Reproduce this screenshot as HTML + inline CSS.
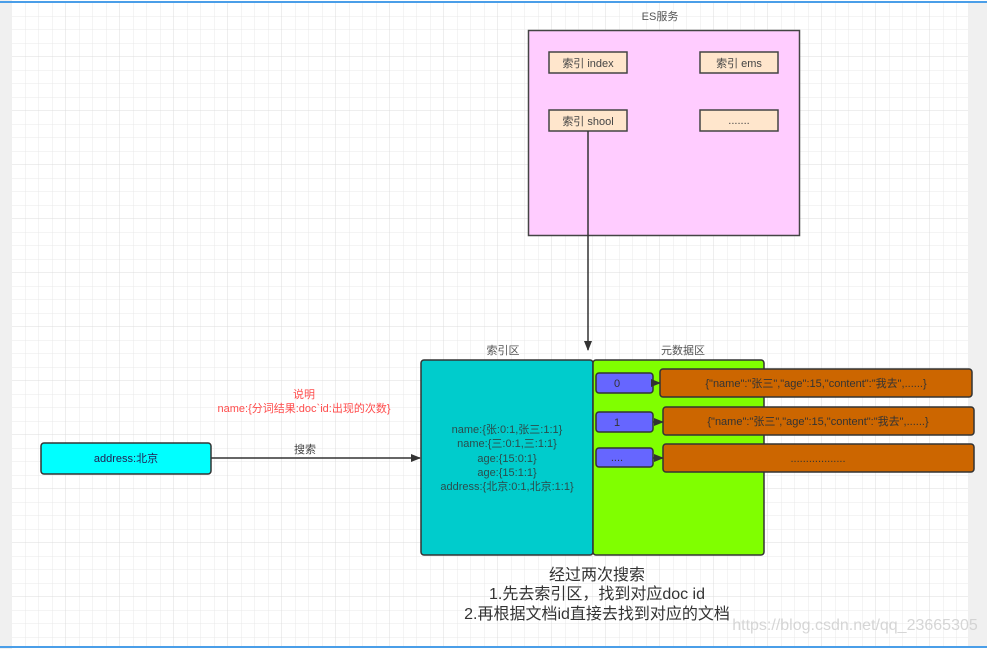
<!DOCTYPE html>
<html><head><meta charset="utf-8"><style>
html,body{margin:0;padding:0;width:987px;height:649px;overflow:hidden;background:#fff}
svg{display:block}
text{font-family:"Liberation Sans","Noto Sans CJK SC",sans-serif}
</style></head><body>
<svg width="987" height="649" viewBox="0 0 987 649" xmlns="http://www.w3.org/2000/svg">
<defs>
<pattern id="g" width="13.5" height="13.5" patternUnits="userSpaceOnUse" x="12" y="3">
<path d="M13.5 0V13.5M0 13.5H13.5" stroke="#e8e8e8" stroke-width="1" fill="none"/>
</pattern>
<pattern id="G" width="54" height="54" patternUnits="userSpaceOnUse" x="12" y="3">
<path d="M54 0V54M0 54H54" stroke="#dcdcdc" stroke-width="1" fill="none"/>
</pattern>
<marker id="a" markerWidth="10" markerHeight="8" refX="9" refY="4" orient="auto" markerUnits="userSpaceOnUse">
<path d="M0 0L10 4L0 8Z" fill="#333"/>
</marker>
</defs>
<rect x="12" y="3" width="956" height="643" fill="url(#g)"/>
<rect x="12" y="3" width="956" height="643" fill="url(#G)"/>
<rect x="0" y="0" width="12" height="649" fill="#f0f0f0"/>
<rect x="968" y="3" width="19" height="643" fill="#f0f0f0"/>
<rect x="0" y="1" width="987" height="2" fill="#4a9ee8"/>
<rect x="0" y="646" width="987" height="2" fill="#4a9ee8"/>

<text x="660" y="20" font-size="11" fill="#555" text-anchor="middle">ES服务</text>
<rect x="528.5" y="30.5" width="271" height="205" fill="#ffccff" stroke="#444" stroke-width="1.5"/>
<g font-size="11" fill="#444" text-anchor="middle">
<rect x="549" y="52" width="78" height="21" fill="#ffe6cc" stroke="#444" stroke-width="1.5"/><text x="588" y="67">索引 index</text>
<rect x="700" y="52" width="78" height="21" fill="#ffe6cc" stroke="#444" stroke-width="1.5"/><text x="739" y="67">索引 ems</text>
<rect x="549" y="110" width="78" height="21" fill="#ffe6cc" stroke="#444" stroke-width="1.5"/><text x="588" y="125">索引 shool</text>
<rect x="700" y="110" width="78" height="21" fill="#ffe6cc" stroke="#444" stroke-width="1.5"/><text x="739" y="124">.......</text>
</g>
<line x1="588" y1="131" x2="588" y2="350" stroke="#333" stroke-width="1.5" marker-end="url(#a)"/>

<text x="503" y="354" font-size="11" fill="#555" text-anchor="middle">索引区</text>
<text x="683" y="354" font-size="11" fill="#555" text-anchor="middle">元数据区</text>
<rect x="421" y="360" width="172" height="195" rx="3" fill="#00cccc" stroke="#333" stroke-width="1.5"/>
<rect x="593" y="360" width="171" height="195" rx="3" fill="#80ff00" stroke="#333" stroke-width="1.5"/>
<g font-size="11" fill="#2b4c4c" text-anchor="middle">
<text x="507" y="433">name:{张:0:1,张三:1:1}</text>
<text x="507" y="447">name:{三:0:1,三:1:1}</text>
<text x="507" y="462">age:{15:0:1}</text>
<text x="507" y="476">age:{15:1:1}</text>
<text x="507" y="490">address:{北京:0:1,北京:1:1}</text>
</g>
<g font-size="11" fill="#333" text-anchor="middle">
<rect x="596" y="373" width="57" height="20" rx="3" fill="#6666ff" stroke="#333" stroke-width="1.5"/><text x="617" y="387">0</text>
<rect x="596" y="412" width="57" height="20" rx="3" fill="#6666ff" stroke="#333" stroke-width="1.5"/><text x="617" y="426">1</text>
<rect x="596" y="448" width="57" height="19" rx="3" fill="#6666ff" stroke="#333" stroke-width="1.5"/><text x="617" y="461">....</text>
<line x1="653" y1="383" x2="660" y2="383" stroke="#333" stroke-width="1.5" marker-end="url(#a)"/>
<line x1="653" y1="422" x2="663" y2="422" stroke="#333" stroke-width="1.5" marker-end="url(#a)"/>
<line x1="653" y1="458" x2="663" y2="458" stroke="#333" stroke-width="1.5" marker-end="url(#a)"/>
<rect x="660" y="369" width="312" height="28" rx="3" fill="#cc6600" stroke="#333" stroke-width="1.5"/>
<text x="816" y="387" fill="#333">{"name":"张三","age":15,"content":"我去",......}</text>
<rect x="663" y="407" width="311" height="28" rx="3" fill="#cc6600" stroke="#333" stroke-width="1.5"/>
<text x="818" y="425" fill="#333">{"name":"张三","age":15,"content":"我去",......}</text>
<rect x="663" y="444" width="311" height="28" rx="3" fill="#cc6600" stroke="#333" stroke-width="1.5"/>
<text x="818" y="462" fill="#333">..................</text>
</g>

<text x="304" y="398" font-size="11" fill="#ff4d4d" text-anchor="middle">说明</text>
<text x="304" y="412" font-size="11" fill="#ff4d4d" text-anchor="middle">name:{分词结果:doc`id:出现的次数}</text>
<rect x="41" y="443" width="170" height="31" rx="3" fill="#00ffff" stroke="#333" stroke-width="1.5"/>
<text x="126" y="462" font-size="11" fill="#225" text-anchor="middle">address:北京</text>
<line x1="211" y1="458" x2="420" y2="458" stroke="#333" stroke-width="1.5" marker-end="url(#a)"/>
<text x="305" y="453" font-size="11" fill="#444" text-anchor="middle">搜索</text>

<g font-size="16" fill="#333" text-anchor="middle">
<text x="597" y="580">经过两次搜索</text>
<text x="597" y="599">1.先去索引区，找到对应doc id</text>
<text x="597" y="619">2.再根据文档id直接去找到对应的文档</text>
</g>
<text x="855" y="630" font-size="16" fill="#ccc" text-anchor="middle" opacity="0.8">https://blog.csdn.net/qq_23665305</text>
</svg>
</body></html>
